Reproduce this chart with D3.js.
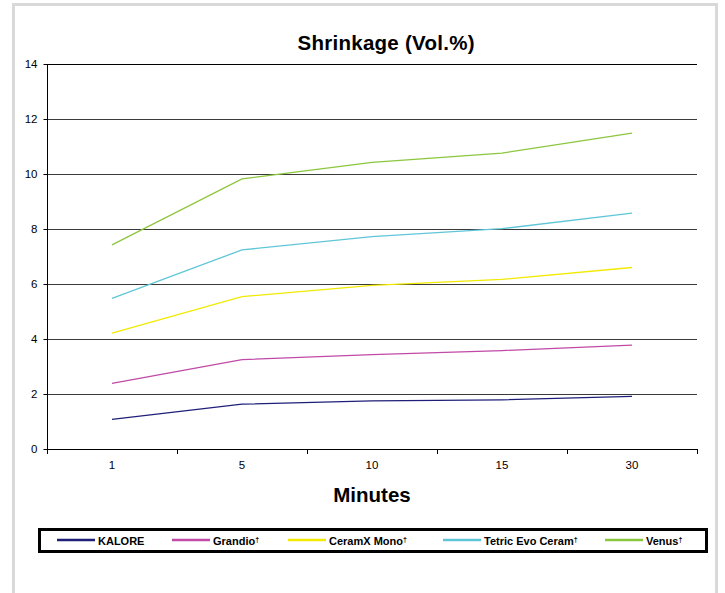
<!DOCTYPE html>
<html><head><meta charset="utf-8">
<script src="https://cdn.jsdelivr.net/npm/d3@7"></script>
<style>body{margin:0;background:#fff}svg{display:block}text{font-family:"Liberation Sans",Arial,sans-serif}</style>
</head><body><svg id="c" width="725" height="593"></svg>
<script>
const categories = ["1","5","10","15","30"];
const seriesNames = ["KALORE","Grandio\u2020","CeramX Mono\u2020","Tetric Evo Ceram\u2020","Venus\u2020"];
const seriesColors = ["#1f1f7a","#c04aa6","#f2ea00","#5fc6d8","#8cc63e"];
const kalore  = [1.08,1.63,1.75,1.79,1.91];
const grandio = [2.39,3.25,3.43,3.58,3.78];
const ceramx  = [4.21,5.54,5.95,6.17,6.6];
const tetric  = [5.48,7.24,7.72,8.01,8.58];
const venus   = [7.42,9.82,10.42,10.76,11.49];
const yTicks = [0,2,4,6,8,10,12,14];
const allSeries = [kalore,grandio,ceramx,tetric,venus];

const svg = d3.select("#c");
// outer frame
svg.append("rect").attr("x",13.5).attr("y",4.5).attr("width",703).attr("height",600)
  .attr("fill","none").attr("stroke","#d9d9d9").attr("stroke-width",3);

const L=47,R=697,T=64,B=449;
const x = d3.scaleBand().domain(categories).range([L,R]);
const y = d3.scaleLinear().domain([0,14]).range([B,T]);

// gridlines
svg.append("g").selectAll("line").data(yTicks.filter(d=>d>0)).join("line")
  .attr("x1",L).attr("x2",R).attr("y1",d=>y(d)+0.5).attr("y2",d=>y(d)+0.5)
  .attr("stroke",d=>d===14?"#000":"#3a3a3a").attr("stroke-width",1.2);

// y axis
const ya = svg.append("g").attr("transform",`translate(${L+0.5},0)`)
  .call(d3.axisLeft(y).tickValues(yTicks).tickSize(4).tickPadding(6).tickFormat(d3.format("d")));
ya.select(".domain").attr("stroke","#000").attr("d",`M0,${T}V${B}`);
ya.selectAll("text").attr("font-size",11.5).attr("fill","#000");
ya.selectAll(".tick line").attr("stroke","#000");

// x axis
const xa = svg.append("g").attr("transform",`translate(0,${B+0.5})`)
  .call(d3.axisBottom(x).tickSize(0).tickPadding(11));
xa.select(".domain").attr("stroke","#000").attr("d",`M${L},0H${R}`);
xa.selectAll("text").attr("font-size",11.5).attr("fill","#000");
const bounds = categories.map(c=>x(c)).concat([R]);
svg.append("g").selectAll("line").data(bounds).join("line")
  .attr("x1",d=>d+0.5).attr("x2",d=>d+0.5).attr("y1",B).attr("y2",B+5).attr("stroke","#000");

// lines
const line = d3.line().x((d,i)=>x(categories[i])+x.bandwidth()/2).y(d=>y(d));
svg.append("g").selectAll("path").data(allSeries).join("path")
  .attr("d",line).attr("fill","none").attr("stroke",(d,i)=>seriesColors[i]).attr("stroke-width",1.3);

// titles
svg.append("text").attr("x",386).attr("y",50).attr("text-anchor","middle")
  .attr("font-size",20.5).attr("font-weight","bold").attr("textLength",177).text("Shrinkage (Vol.%)");
svg.append("text").attr("x",372).attr("y",502).attr("text-anchor","middle")
  .attr("font-size",20.5).attr("font-weight","bold").text("Minutes");

// legend
svg.append("rect").attr("x",39.5).attr("y",529.5).attr("width",667).attr("height",22)
  .attr("fill","#fff").attr("stroke","#000").attr("stroke-width",3);
const legX = [57,172,288,443,605];
const lg = svg.append("g").selectAll("g").data(seriesNames).join("g")
  .attr("transform",(d,i)=>`translate(${legX[i]},540)`);
lg.append("line").attr("x1",0).attr("x2",38).attr("y1",0).attr("y2",0)
  .attr("stroke",(d,i)=>seriesColors[i]).attr("stroke-width",2.5);
lg.append("text").attr("x",41).attr("y",4.5).attr("font-size",11).attr("font-weight","bold")
  .text(d=>d.replace("\u2020","")).append("tspan").attr("font-size",7).attr("dy",-3)
  .text(d=>d.includes("\u2020")?"\u2020":"");
</script></body></html>
